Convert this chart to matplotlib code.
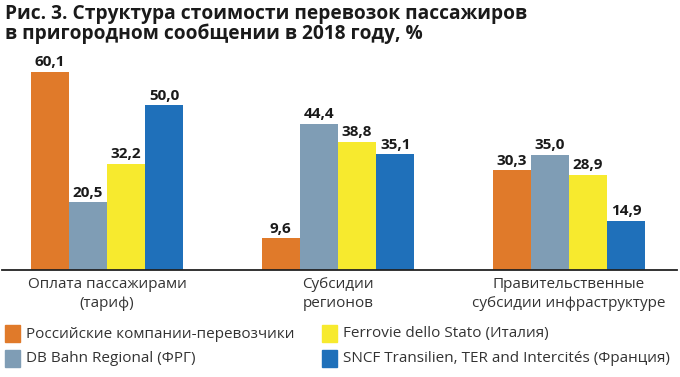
import numpy as np
import matplotlib.pyplot as plt
from matplotlib.patches import Rectangle

plt.rcParams['font.family'] = ['Open Sans', 'DejaVu Sans']

categories = ['Оплата пассажирами\n(тариф)', 'Субсидии\nрегионов',
              'Правительственные\nсубсидии инфраструктуре']
series_names = ['Российские компании-перевозчики', 'DB Bahn Regional (ФРГ)',
                'Ferrovie dello Stato (Италия)',
                'SNCF Transilien, TER and Intercités (Франция)']
russia = [60.1, 9.6, 30.3]
germany = [20.5, 44.4, 35.0]
italy = [32.2, 38.8, 28.9]
france = [50.0, 35.1, 14.9]
colors = ['#E07A2A', '#7F9DB5', '#F7EA2E', '#1F70BA']

fig = plt.figure(figsize=(6.8, 3.77), dpi=100)
ax = fig.add_axes([0.003, 0.2838, 0.9926, 0.57])

x = np.arange(len(categories))
w = 0.165
for i, vals in enumerate([russia, germany, italy, france]):
    pos = x + (i - 1.5) * w
    ax.bar(pos, vals, width=w, color=colors[i])
    for p, v in zip(pos, vals):
        ax.text(p, v + 0.8, f'{v:.1f}'.replace('.', ','), ha='center', va='bottom',
                fontsize=11, fontweight='bold', color='#1a1a1a')

ax.set_xlim(-0.4545, 2.4675)
ax.set_ylim(0, 65.2)
for s in ['top', 'right', 'left']:
    ax.spines[s].set_visible(False)
ax.spines['bottom'].set_linewidth(1.3)
ax.spines['bottom'].set_color('#222222')
ax.set_yticks([])
ax.set_xticks(x)
ax.set_xticklabels(categories, fontsize=11, color='#333333', linespacing=1.35)
ax.tick_params(axis='x', length=0, pad=5)

fig.text(0.007, 0.99, 'Рис. 3. Структура стоимости перевозок пассажиров\nв пригородном сообщении в 2018 году, %',
         ha='left', va='top', fontsize=13.8, fontweight='bold', color='#1a1a1a', linespacing=1.0)

# legend
leg_pos = [(5, 325), (5, 350), (322, 325), (322, 350)]
for (px, py), name, c in zip(leg_pos, series_names, colors):
    fig.patches.append(Rectangle((px / 680, 1 - (py + 17) / 377), 15 / 680, 17 / 377,
                                 transform=fig.transFigure, color=c))
    fig.text((px + 21) / 680, 1 - (py + 9) / 377, name, ha='left', va='center',
             fontsize=11, color='#333333')

fig.savefig('out.png', dpi=100)
